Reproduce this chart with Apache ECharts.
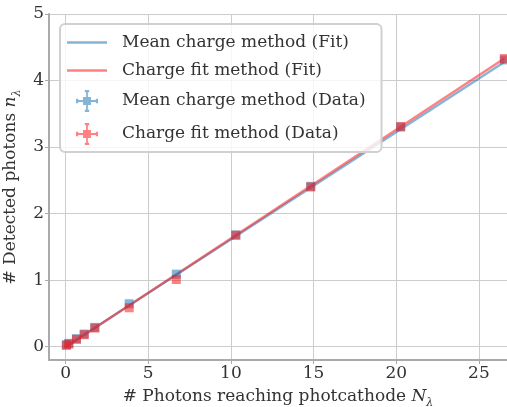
<!DOCTYPE html>
<html>
<head>
<meta charset="utf-8">
<script src="https://cdn.jsdelivr.net/npm/echarts@6/dist/echarts.min.js"></script>
<style>
  html, body { margin: 0; padding: 0; background: #fff; }
  #chart { width: 507px; height: 407px; }
</style>
</head>
<body>
<div id="chart"></div>
<script>
// Photons reaching the photocathode and detected photons per method
const photonsReaching = [0.05, 0.2, 0.66, 1.13, 1.77, 3.85, 6.7, 10.3, 14.83, 20.27, 26.54];
const meanChargeData  = [0.03, 0.05, 0.12, 0.19, 0.29, 0.645, 1.09, 1.68, 2.41, 3.30, 4.31];
const chargeFitData   = [0.02, 0.04, 0.11, 0.18, 0.28, 0.585, 1.01, 1.675, 2.40, 3.31, 4.33];

// Fitted straight lines, given by their end points
const fitX          = [0, 26.54];
const meanChargeFit = [0.0, 4.28];
const chargeFitFit  = [-0.01, 4.33];

const legendNames = [
  'Mean charge method (Fit)',
  'Charge fit method (Fit)',
  'Mean charge method (Data)',
  'Charge fit method (Data)'
];

const BLUE = '#1f77b4';
const RED = '#ff1a1a';
const FONT = 'DejaVu Serif';
const FS = 17;

const pairs = (xs, ys) => xs.map((x, i) => [x, ys[i]]);

// square marker with error-bar cross, used as legend icon
const errIcon = 'path://M4,0H6V1H5.4V3.2H6.8V4H3.2V3.2H4.6V1H4Z' +
  'M3.2,3.2H6.8V6.8H3.2Z' +
  'M0,4H1V4.6H3.2V5.4H1V6H0Z' +
  'M10,4H9V4.6H6.8V5.4H9V6H10Z' +
  'M4,10H6V9H5.4V6.8H4.6V9H4Z';
const lineIcon = 'path://M0,0H40V2.4H0Z';

const chart = echarts.init(document.getElementById('chart'), null, { renderer: 'canvas' });

const nameRich = {
  a: { fontFamily: FONT, fontSize: FS, color: '#333', lineHeight: 24 },
  i: { fontFamily: FONT, fontSize: FS, fontStyle: 'italic', color: '#333', lineHeight: 24 },
  s: { fontFamily: FONT, fontSize: 11, fontStyle: 'italic', color: '#333', lineHeight: 11, verticalAlign: 'bottom' }
};

chart.setOption({
  animation: false,
  backgroundColor: '#fff',
  grid: { left: 49, top: 14, right: 0, bottom: 47, containLabel: false, outerBoundsMode: 'none' },
  xAxis: {
    type: 'value',
    min: -1, max: 26.7, splitNumber: 5,
    name: '{a|# Photons reaching photcathode }{i|N}{s|λ}',
    nameLocation: 'middle', nameGap: 25,
    nameTextStyle: { rich: nameRich },
    axisLine: { show: true, onZero: false, lineStyle: { color: '#aaa', width: 2 } },
    axisTick: { show: true, length: 4, lineStyle: { color: '#aaa', width: 1 } },
    axisLabel: { showMinLabel: false, showMaxLabel: false, margin: 5,
      fontFamily: FONT, fontSize: FS, color: '#333' },
    splitLine: { show: true, lineStyle: { color: '#ccc', width: 1 } }
  },
  yAxis: {
    type: 'value',
    min: -0.2, max: 5, splitNumber: 5,
    name: '{a|# Detected photons }{i|n}{s|λ}',
    nameLocation: 'middle', nameGap: 16, nameRotate: 90,
    nameTextStyle: { rich: nameRich },
    axisLine: { show: true, onZero: false, lineStyle: { color: '#aaa', width: 2 } },
    axisTick: { show: true, length: 4, lineStyle: { color: '#aaa', width: 1 } },
    axisLabel: { showMinLabel: false, margin: 5,
      fontFamily: FONT, fontSize: FS, color: '#333' },
    splitLine: { show: true, lineStyle: { color: '#ccc', width: 1 } }
  },
  legend: {
    left: 60, top: 24,
    orient: 'vertical',
    itemWidth: 40, itemHeight: 22, itemGap: 11,
    padding: [10, 16, 7, 7],
    backgroundColor: 'rgba(255,255,255,0.8)',
    borderColor: '#d0d0d0', borderWidth: 2, borderRadius: 5,
    textStyle: { fontFamily: FONT, fontSize: FS, color: '#333', padding: [0, 0, 0, 10] },
    data: [
      { name: legendNames[0], icon: lineIcon },
      { name: legendNames[1], icon: lineIcon },
      { name: legendNames[2], icon: errIcon },
      { name: legendNames[3], icon: errIcon }
    ]
  },
  series: [
    {
      name: legendNames[0], type: 'line', data: pairs(fitX, meanChargeFit),
      symbol: 'none', z: 2,
      lineStyle: { color: BLUE, width: 2.4, opacity: 0.55 },
      itemStyle: { color: BLUE, opacity: 0.55 }
    },
    {
      name: legendNames[1], type: 'line', data: pairs(fitX, chargeFitFit),
      symbol: 'none', z: 3,
      lineStyle: { color: RED, width: 2.4, opacity: 0.55 },
      itemStyle: { color: RED, opacity: 0.55 }
    },
    {
      name: legendNames[2], type: 'scatter', data: pairs(photonsReaching, meanChargeData),
      symbol: 'rect', symbolSize: 9, z: 4,
      itemStyle: { color: BLUE, opacity: 0.55 }
    },
    {
      name: legendNames[3], type: 'scatter', data: pairs(photonsReaching, chargeFitData),
      symbol: 'rect', symbolSize: 9, z: 5,
      itemStyle: { color: RED, opacity: 0.55 }
    }
  ]
});
</script>
</body>
</html>
